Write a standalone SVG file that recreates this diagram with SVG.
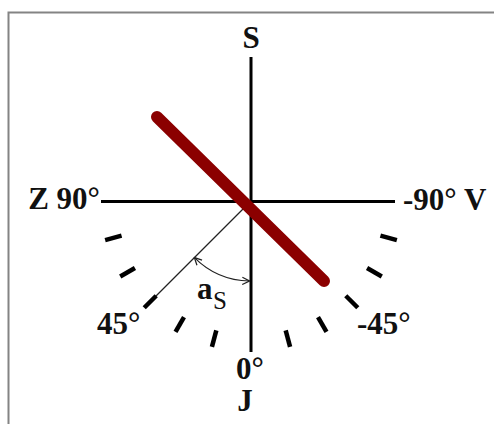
<svg xmlns="http://www.w3.org/2000/svg" width="494" height="424" viewBox="0 0 494 424">
<style>
.lbl{font-family:"Liberation Serif","Times New Roman",serif;font-size:31px;font-weight:bold;fill:#111}
.sub{font-family:"Liberation Serif","Times New Roman",serif;font-size:25px;font-weight:normal;fill:#111}
.axis{stroke:#000;stroke-width:3;fill:none}
.tick{stroke:#000;stroke-width:4.5;stroke-linecap:butt}
.thin{stroke:#222;stroke-width:1.2;fill:none}
</style>
<defs>
<marker id="arr" viewBox="0 0 10 10" refX="9" refY="5" markerWidth="9" markerHeight="9" markerUnits="userSpaceOnUse" orient="auto-start-reverse">
<path d="M1,1 L9,5 L1,9" fill="none" stroke="#222" stroke-width="1.4"/>
</marker>
</defs>
<rect width="494" height="424" fill="#fff"/>
<rect x="8.5" y="12.5" width="520" height="440" fill="none" stroke="#848484" stroke-width="2"/>
<g id="connectors">
<line id="axis-v" class="axis" x1="251" y1="57" x2="251" y2="352"/>
<line id="axis-h" class="axis" x1="101" y1="201.5" x2="395" y2="201.5"/>
<line id="ray45" class="thin" x1="248" y1="204" x2="156" y2="296"/>
<path id="angle-arc" class="thin" d="M194.4,257.6 A80,80 0 0 0 249.5,281" marker-start="url(#arr)" marker-end="url(#arr)"/>
<g id="ticks" transform="translate(251,201)">
<line class="tick" x1="134" y1="0" x2="151" y2="0" transform="rotate(15)"/>
<line class="tick" x1="134" y1="0" x2="151" y2="0" transform="rotate(30)"/>
<line class="tick" x1="134" y1="0" x2="151" y2="0" transform="rotate(45)"/>
<line class="tick" x1="134" y1="0" x2="151" y2="0" transform="rotate(60)"/>
<line class="tick" x1="134" y1="0" x2="151" y2="0" transform="rotate(75)"/>
<line class="tick" x1="134" y1="0" x2="151" y2="0" transform="rotate(105)"/>
<line class="tick" x1="134" y1="0" x2="151" y2="0" transform="rotate(120)"/>
<line class="tick" x1="134" y1="0" x2="151" y2="0" transform="rotate(135)"/>
<line class="tick" x1="134" y1="0" x2="151" y2="0" transform="rotate(150)"/>
<line class="tick" x1="134" y1="0" x2="151" y2="0" transform="rotate(165)"/>
</g>
</g>
<g id="bar">
<line x1="157" y1="117" x2="324" y2="281" stroke="#8B0000" stroke-width="12" stroke-linecap="round"/>
</g>
<g id="label-S"><text class="lbl" x="251" y="48" text-anchor="middle">S</text></g>
<g id="label-Z"><text class="lbl" x="100" y="209" text-anchor="end">Z 90°</text></g>
<g id="label-V"><text class="lbl" x="403" y="210">-90° V</text></g>
<g id="label-45"><text class="lbl" x="97" y="334">45°</text></g>
<g id="label-m45"><text class="lbl" x="357" y="334">-45°</text></g>
<g id="label-0"><text class="lbl" x="236" y="379">0°</text></g>
<g id="label-J"><text class="lbl" x="245" y="411" text-anchor="middle">J</text></g>
<g id="label-as"><text class="lbl" x="197" y="299">a<tspan class="sub" x="213" y="309">S</tspan></text></g>
</svg>
